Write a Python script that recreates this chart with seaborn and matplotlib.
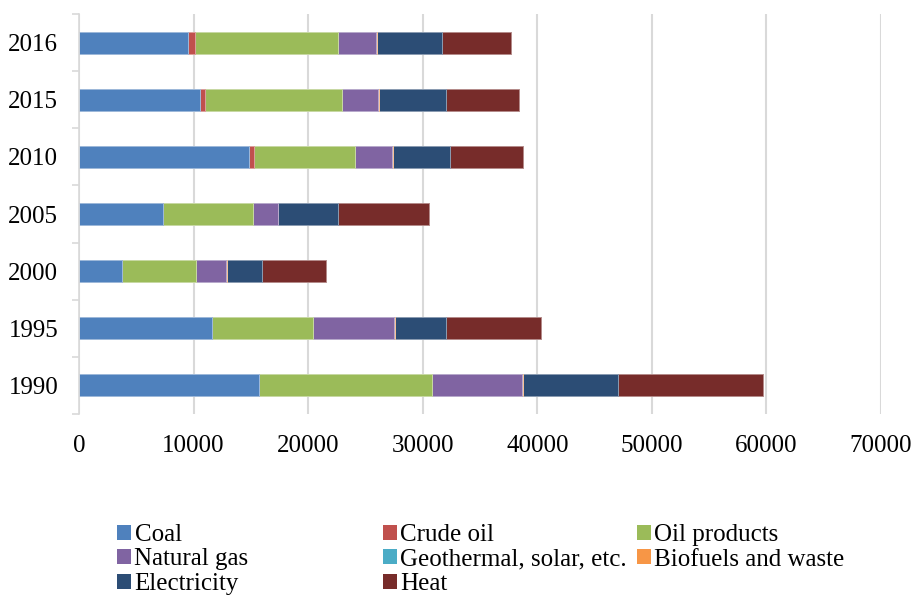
import matplotlib
matplotlib.use("Agg")
import matplotlib.pyplot as plt
from matplotlib.patches import Patch
from matplotlib.ticker import FixedLocator
import numpy as np
import pandas as pd
import seaborn as sns

# Final energy consumption by source (top to bottom as displayed)
years = ["2016", "2015", "2010", "2005", "2000", "1995", "1990"]
coal = [9540, 10560, 14865, 7300, 3750, 11610, 15710]
crude_oil = [580, 436, 407, 0, 0, 0, 0]
oil_products = [12480, 11930, 8790, 7855, 6430, 8785, 15125]
natural_gas = [3290, 3140, 3290, 2210, 2650, 7100, 7790]
geothermal = [0, 0, 0, 0, 0, 0, 0]
biofuels = [145, 90, 90, 30, 115, 115, 115]
electricity = [5615, 5850, 4975, 5235, 3055, 4395, 8330]
heat = [6020, 6430, 6370, 7910, 5560, 8320, 12610]

series_names = ["Coal", "Crude oil", "Oil products", "Natural gas",
                "Geothermal, solar, etc.", "Biofuels and waste",
                "Electricity", "Heat"]
series_values = [coal, crude_oil, oil_products, natural_gas,
                 geothermal, biofuels, electricity, heat]
colors = ["#4F81BD", "#C0504D", "#9BBB59", "#8064A2",
          "#4BACC6", "#F79646", "#2C4D75", "#772C2A"]

sns.set_theme(style="white")
plt.rcParams["font.family"] = ["Liberation Serif", "DejaVu Serif"]
plt.rcParams["text.color"] = "black"

fig = plt.figure(figsize=(9.16, 5.97), dpi=100)
ax = fig.add_axes([79 / 916, 1 - 414 / 597, (881 - 79) / 916, (414 - 14) / 597])

df = pd.DataFrame({"year": years})
for name, vals in zip(series_names, series_values):
    df[name] = vals
cum = df[series_names].cumsum(axis=1)


def lighten(c, f=0.45):
    rgb = np.array(matplotlib.colors.to_rgb(c))
    return tuple(rgb + (1 - rgb) * f)


# Stacked bars: draw cumulative totals from the outermost segment inward
for name, col in reversed(list(zip(series_names, colors))):
    sns.barplot(data=cum.assign(year=years), x=name, y="year", order=years,
                color=col, saturation=1, width=0.385, orient="h",
                edgecolor=lighten(col), linewidth=0.7, ax=ax, zorder=3)

ax.set_xlim(0, 70000)
ax.set_ylim(6.5, -0.5)
ax.set_xticks(np.arange(0, 70001, 10000))
ax.set_xticklabels([str(v) for v in range(0, 70001, 10000)])
ax.set_xlabel("")
ax.set_ylabel("")

ax.grid(axis="x", color="#D9D9D9", linewidth=1.5, zorder=0)
ax.grid(axis="y", visible=False)
for s in ["top", "right", "bottom"]:
    ax.spines[s].set_visible(False)
ax.spines["left"].set_color("#D9D9D9")
ax.spines["left"].set_linewidth(1.2)
ax.spines["left"].set_zorder(4)

ax.tick_params(axis="x", length=0, pad=15, labelsize=18, labelcolor="black")
ax.tick_params(axis="y", which="major", length=0, pad=15, labelsize=18,
               labelcolor="black")
ax.yaxis.set_minor_locator(FixedLocator(np.arange(-0.5, 7.0, 1.0)))
ax.tick_params(axis="y", which="minor", length=5, width=1.2,
               color="#D9D9D9", left=True)

# Legend laid out in three columns, filled row by row
handles = [Patch(facecolor=c, edgecolor="none") for c in colors]
columns = [[0, 3, 6], [1, 4, 7], [2, 5]]
col_x = [117, 383, 637]
for idx, x in zip(columns, col_x):
    fig.legend([handles[i] for i in idx], [series_names[i] for i in idx],
               loc="upper left", bbox_to_anchor=(x / 916, 1 - 524 / 597),
               frameon=False, fontsize=18, labelcolor="black",
               handlelength=0.55, handleheight=0.55, handletextpad=0.15,
               labelspacing=0.1, borderpad=0, borderaxespad=0)

fig.savefig("out.png", dpi=100)
